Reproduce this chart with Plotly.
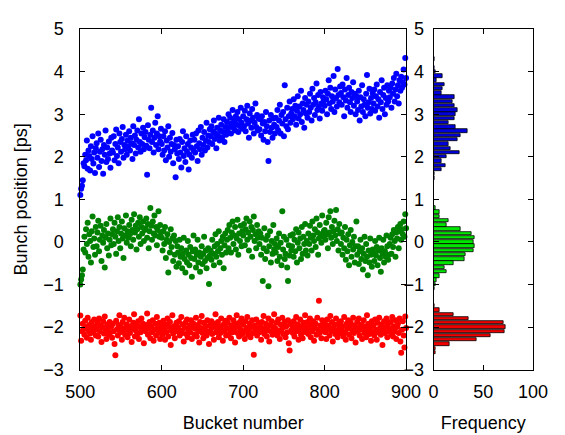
import plotly.graph_objects as go

# Bunch position per bucket for the three bunch trains [ps]
TRAIN_BLUE = [
    1.10, 1.25, 1.32, 1.45, 1.85, 1.78, 2.05, 1.92, 2.38, 1.72, 2.15, 2.02, 1.68, 2.25, 1.95, 2.48, 1.84, 2.10, 1.62, 2.20,
    2.32, 1.98, 2.55, 1.76, 2.12, 2.40, 1.90, 2.18, 1.60, 2.28, 2.05, 2.62, 1.88, 2.22, 1.95, 2.36, 2.08, 1.74, 2.45, 2.15,
    2.10, 2.48, 1.92, 2.30, 2.64, 2.02, 2.22, 1.85, 2.55, 2.35, 2.12, 2.42, 2.70, 1.98, 2.28, 2.18, 2.52, 2.05, 2.38, 2.25,
    2.60, 2.15, 2.45, 2.32, 1.95, 2.72, 2.28, 2.50, 2.08, 2.40, 2.62, 2.22, 2.88, 2.35, 2.12, 2.55, 2.30, 2.68, 2.18, 2.46,
    2.58, 2.26, 1.58, 2.74, 2.40, 2.20, 2.52, 3.15, 2.35, 2.62, 2.10, 2.45, 2.80, 2.28, 2.55, 2.95, 2.18, 2.48, 2.36, 2.66,
    2.30, 2.05, 2.48, 2.15, 2.60, 1.92, 2.38, 2.22, 2.72, 2.00, 2.45, 2.12, 2.30, 2.56, 1.85, 2.28, 2.18, 1.52, 2.40, 2.08,
    2.25, 1.95, 2.42, 2.10, 1.75, 2.35, 2.60, 2.02, 2.20, 1.88, 2.48, 2.12, 2.30, 1.70, 2.05, 2.38, 2.22, 1.98, 2.52, 2.15,
    2.40, 2.10, 2.55, 2.25, 1.90, 2.62, 2.32, 2.18, 2.70, 2.05, 2.45, 2.28, 2.58, 2.15, 2.38, 2.80, 2.22, 2.50, 2.35, 2.65,
    2.48, 2.72, 2.30, 2.60, 2.85, 2.42, 2.55, 2.20, 2.68, 2.50, 2.92, 2.38, 2.62, 2.75, 2.45, 2.58, 2.88, 2.35, 2.70, 2.52,
    2.82, 2.60, 3.00, 2.70, 2.92, 2.55, 2.78, 3.10, 2.68, 2.85, 2.62, 2.95, 2.75, 3.05, 2.58, 2.88, 2.72, 3.15, 2.80, 2.66,
    2.95, 2.72, 3.08, 2.60, 2.88, 3.20, 2.78, 2.45, 3.02, 2.85, 2.68, 3.12, 2.92, 2.55, 2.80, 3.25, 2.70, 2.98, 2.62, 2.90,
    2.65, 2.88, 2.50, 2.95, 2.78, 2.40, 2.82, 2.60, 3.05, 2.72, 2.35, 1.90, 2.85, 2.58, 2.98, 2.68, 2.45, 2.90, 2.75, 2.55,
    2.92, 2.70, 3.10, 2.62, 2.85, 3.22, 2.55, 2.98, 2.78, 3.05, 2.48, 3.68, 2.88, 2.72, 3.15, 2.65, 2.95, 3.30, 2.80, 3.02,
    3.12, 2.88, 3.35, 2.95, 3.20, 2.75, 3.08, 3.42, 2.90, 3.18, 3.00, 3.55, 2.82, 3.25, 3.10, 2.68, 3.38, 3.02, 3.22, 2.92,
    3.30, 3.05, 3.48, 3.15, 2.85, 3.60, 3.22, 3.38, 2.98, 3.28, 3.72, 3.10, 3.45, 3.18, 2.90, 3.52, 3.25, 3.08, 3.40, 3.32,
    3.20, 3.55, 3.35, 3.00, 3.48, 3.80, 3.25, 3.62, 3.12, 3.42, 3.30, 3.90, 3.05, 3.58, 3.38, 3.18, 4.06, 3.45, 3.28, 3.65,
    3.50, 3.22, 3.70, 3.40, 2.95, 3.58, 3.32, 3.85, 3.15, 3.45, 3.62, 3.28, 3.05, 3.52, 3.38, 3.75, 3.20, 3.48, 3.00, 3.42,
    3.30, 3.10, 3.55, 2.85, 3.40, 3.18, 3.68, 3.05, 3.35, 3.22, 2.95, 3.48, 3.92, 3.15, 3.28, 3.60, 3.02, 3.38, 3.12, 3.50,
    3.25, 3.58, 3.08, 3.42, 3.70, 3.18, 3.35, 2.92, 3.52, 3.28, 3.80, 3.12, 3.45, 3.62, 3.00, 3.38, 3.22, 3.68, 3.30, 3.55,
    3.40, 3.62, 3.15, 3.72, 3.48, 3.85, 3.30, 3.58, 3.95, 3.42, 3.68, 3.25, 3.80, 3.55, 3.88, 3.62, 3.75, 4.05, 3.70, 4.32,
    3.85,
]

TRAIN_GREEN = [
    -1.00, -0.88, -0.78, -0.65, -0.18, 0.12, -0.25, 0.30, -0.05, 0.45, -0.35, 0.18, 0.02, -0.48, 0.25, 0.60, -0.12, 0.08, -0.30, 0.35,
    -0.10, 0.22, 0.50, -0.22, 0.05, 0.38, -0.45, 0.15, -0.02, 0.28, -0.60, 0.10, 0.42, -0.15, 0.20, -0.32, 0.05, 0.55, -0.08, 0.18,
    0.30, -0.05, 0.45, 0.12, -0.28, 0.25, 0.58, 0.02, 0.35, -0.15, 0.20, 0.48, 0.08, -0.38, 0.32, 0.15, 0.62, -0.02, 0.25, 0.10,
    0.40, 0.18, -0.10, 0.52, 0.28, 0.05, 0.65, 0.22, 0.38, -0.18, 0.30, 0.45, 0.12, 0.58, -0.05, 0.35, 0.20, 0.48, 0.02, 0.28,
    0.32, 0.55, 0.10, 0.42, -0.15, 0.25, 0.80, 0.38, 0.05, 0.48, 0.20, 0.62, 0.15, 0.35, -0.08, 0.28, 0.72, 0.12, 0.40, 0.22,
    0.10, -0.20, 0.25, -0.05, 0.35, -0.38, 0.05, 0.18, -0.72, 0.00, -0.25, 0.30, -0.12, 0.08, -0.45, 0.15, -0.30, 0.02, -0.58, -0.10,
    -0.25, -0.50, 0.05, -0.35, -0.15, -0.62, -0.28, 0.10, -0.40, -0.72, -0.20, -0.48, 0.02, -0.30, -0.55, -0.12, -0.38, -0.82, -0.22, 0.15,
    -0.40, -0.18, -0.60, -0.30, 0.05, -0.48, -0.25, -0.70, -0.35, -0.10, -0.52, -0.28, 0.12, -0.45, -0.20, -0.62, -0.38, -0.15, -0.99, -0.32,
    -0.20, -0.42, 0.05, -0.28, -0.55, -0.10, 0.18, -0.35, -0.05, -0.22, 0.25, -0.48, -0.15, 0.02, -0.30, 0.12, -0.62, -0.08, 0.20, -0.25,
    0.05, 0.28, -0.15, 0.40, 0.10, -0.25, 0.22, 0.48, -0.05, 0.15, 0.35, -0.18, 0.08, 0.52, -0.30, 0.20, 0.02, 0.38, -0.10, 0.25,
    0.15, 0.42, -0.08, 0.30, 0.55, 0.05, 0.22, -0.20, 0.48, 0.12, 0.35, -0.35, 0.28, 0.60, 0.02, 0.18, -0.15, 0.40, 0.10, 0.25,
    -0.05, 0.20, -0.30, 0.10, -0.92, -0.15, 0.32, -0.40, 0.05, -0.22, 0.15, -1.04, -0.10, 0.25, -0.48, 0.02, -0.28, 0.40, -0.18, -0.05,
    -0.25, 0.08, -0.45, -0.12, 0.20, -0.35, -0.02, -0.55, 0.72, -0.18, 0.12, -0.40, -0.28, 0.05, -0.60, -0.92, -0.08, -0.32, 0.15, -0.20,
    -0.10, 0.18, -0.35, 0.05, -0.22, 0.30, -0.48, -0.02, 0.22, -0.15, 0.08, -0.40, 0.35, -0.28, 0.12, -0.05, 0.42, -0.20, 0.02, -0.32,
    0.20, -0.05, 0.38, 0.10, -0.20, 0.48, 0.15, 0.02, 0.30, -0.12, 0.55, 0.22, -0.30, 0.08, 0.40, 0.18, -0.02, 0.62, 0.12, 0.25,
    0.28, 0.05, 0.45, 0.18, -0.15, 0.58, 0.22, 0.72, 0.10, 0.35, -0.05, 0.25, 0.50, 0.15, 0.75, 0.02, 0.30, -0.20, 0.42, 0.20,
    -0.05, 0.22, -0.30, 0.10, -0.15, 0.35, -0.42, 0.05, -0.22, 0.18, -0.55, -0.08, 0.28, -0.35, 0.00, -0.18, 0.12, -0.48, -0.10, 0.48,
    -0.30, -0.10, -0.52, -0.22, 0.05, -0.40, -0.15, -0.65, -0.28, 0.12, -0.45, -0.05, -0.35, -0.78, -0.20, -0.48, 0.08, -0.30, -0.58, -0.18,
    -0.25, -0.45, 0.02, -0.32, -0.12, -0.55, -0.20, 0.10, -0.38, -0.70, -0.15, -0.28, 0.05, -0.48, -0.22, -0.35, 0.15, -0.10, -0.42, -0.30,
    -0.05, 0.10, -0.28, 0.18, -0.12, 0.28, 0.02, -0.35, 0.22, 0.08, 0.35, -0.15, 0.25, 0.42, 0.05, 0.30, 0.18, 0.48, 0.12, 0.65,
    0.32,
]

TRAIN_RED = [
    -1.73, -2.32, -2.10, -1.92, -2.05, -2.18, -1.85, -2.00, -2.25, -1.78, -2.08, -1.95, -2.15, -2.30, -1.88, -2.02, -2.12, -1.82, -1.98, -2.20,
    -2.05, -1.90, -2.22, -1.80, -2.10, -1.96, -2.35, -2.00, -1.86, -2.15, -1.75, -2.08, -2.28, -1.94, -2.02, -2.18, -1.88, -2.12, -1.98, -2.25,
    -1.92, -2.10, -2.40, -2.66, -1.85, -2.05, -2.20, -1.95, -1.72, -2.12, -2.00, -2.30, -1.88, -2.08, -1.78, -2.18, -2.02, -1.94, -2.24, -2.06,
    -1.82, -2.14, -1.98, -2.35, -2.04, -1.90, -1.70, -2.22, -2.08, -1.96, -2.16, -1.86, -2.28, -2.00, -2.12, -1.80, -2.06, -1.92, -2.38, -2.02,
    -2.10, -1.95, -1.68, -2.18, -2.04, -1.88, -2.26, -1.98, -2.12, -1.84, -2.32, -2.06, -1.92, -2.20, -1.76, -2.02, -2.14, -1.90, -2.28, -2.08,
    -1.96, -2.18, -1.85, -2.05, -2.30, -1.94, -2.12, -1.80, -2.22, -2.00, -1.88, -2.42, -2.08, -1.72, -2.15, -1.98, -2.26, -2.04, -1.90, -2.10,
    -2.00, -1.86, -2.20, -2.08, -1.76, -2.14, -1.94, -2.34, -2.02, -1.90, -2.16, -1.82, -2.24, -2.06, -1.96, -2.12, -1.84, -2.28, -2.00, -1.92,
    -2.18, -2.04, -1.78, -2.22, -1.95, -2.10, -2.36, -1.88, -2.02, -1.74, -2.14, -2.26, -1.90, -2.06, -1.98, -2.20, -1.84, -2.12, -2.40, -1.96,
    -2.08, -1.86, -2.16, -2.00, -2.30, -1.92, -1.70, -2.12, -2.04, -1.88, -2.24, -1.98, -2.14, -1.80, -2.06, -2.32, -1.94, -2.10, -1.85, -2.20,
    -2.02, -1.90, -2.18, -1.78, -2.08, -2.26, -1.96, -2.12, -1.84, -2.04, -2.36, -1.92, -1.72, -2.14, -2.00, -2.22, -1.88, -2.06, -1.80, -2.16,
    -1.94, -2.10, -2.28, -1.86, -2.02, -1.76, -2.18, -2.06, -1.92, -2.24, -2.00, -1.84, -2.14, -2.65, -1.96, -2.08, -1.82, -2.20, -2.04, -1.90,
    -2.12, -1.98, -2.30, -1.88, -2.06, -1.74, -2.16, -2.02, -1.92, -2.22, -2.08, -1.80, -2.34, -1.96, -2.10, -1.86, -2.18, -2.00, -1.70, -2.14,
    -2.04, -1.90, -2.20, -1.82, -2.10, -2.28, -1.94, -2.06, -1.78, -2.16, -2.00, -1.88, -2.24, -1.98, -2.12, -1.84, -2.38, -2.55, -1.92, -2.08,
    -1.96, -2.14, -1.86, -2.22, -2.02, -1.76, -2.10, -1.94, -2.30, -2.06, -1.82, -2.18, -1.98, -2.26, -1.90, -2.08, -1.72, -2.12, -2.00, -1.88,
    -2.16, -2.04, -1.80, -2.24, -1.94, -2.10, -1.86, -2.32, -2.02, -1.92, -2.18, -1.78, -2.06, -1.38, -2.14, -1.96, -2.26, -1.84, -2.08, -2.00,
    -1.90, -2.12, -2.28, -1.82, -2.04, -1.96, -2.20, -1.74, -2.10, -1.88, -2.34, -2.02, -1.94, -2.16, -1.80, -2.08, -2.24, -1.92, -2.00, -2.14,
    -1.86, -2.06, -1.98, -2.22, -1.76, -2.12, -2.30, -1.92, -2.04, -1.84, -2.18, -2.00, -1.90, -2.26, -2.08, -1.78, -2.14, -1.96, -2.36, -2.02,
    -1.88, -2.10, -1.80, -2.20, -2.00, -1.94, -2.28, -2.06, -1.84, -2.14, -1.98, -2.24, -1.72, -2.08, -1.92, -2.16, -2.02, -2.32, -1.86, -2.12,
    -1.96, -2.20, -1.82, -2.06, -2.30, -1.90, -2.12, -1.78, -2.02, -2.18, -1.94, -2.42, -2.08, -1.86, -2.14, -2.00, -1.80, -2.24, -1.92, -2.10,
    -2.04, -1.88, -2.16, -1.76, -2.22, -1.98, -2.10, -1.84, -2.28, -2.00, -1.92, -2.14, -1.80, -2.34, -2.60, -2.06, -1.86, -2.20, -2.48, -1.75,
    -2.02,
]

FIRST_BUCKET = 500

# Histogram of bunch positions (0.1 ps bins): bin centres and counts
BLUE_BINS = [1.5, 1.6, 1.7, 1.8, 1.9, 2.0, 2.1, 2.2, 2.3, 2.4, 2.5, 2.6, 2.7, 2.8, 2.9,
             3.0, 3.1, 3.2, 3.3, 3.4, 3.5, 3.6, 3.7, 3.8, 3.9, 4.0, 4.1, 4.3]
BLUE_COUNTS = [1, 1, 8, 12, 8, 13, 26, 17, 15, 24, 27, 34, 22, 15, 21,
               22, 24, 21, 19, 21, 8, 9, 11, 3, 9, 2, 1, 1]

GREEN_BINS = [0.8, 0.7, 0.6, 0.5, 0.4, 0.3, 0.2, 0.1, 0.0, -0.1, -0.2, -0.3, -0.4,
              -0.5, -0.6, -0.7, -0.8, -0.9, -1.0, -1.1]
GREEN_COUNTS = [2, 6, 6, 15, 13, 27, 38, 41, 40, 41, 40, 32, 31,
                20, 11, 13, 6, 3, 2, 1]

RED_BINS = [-1.5, -1.6, -1.7, -1.8, -1.9, -2.0, -2.1, -2.2, -2.3, -2.4, -2.5, -2.6]
RED_COUNTS = [1, 6, 20, 35, 70, 72, 71, 57, 43, 16, 2, 2]

FONT = "Liberation Sans, Arial, sans-serif"

fig = go.Figure()

for vals, col in [(TRAIN_BLUE, "#0000ff"), (TRAIN_GREEN, "#008000"), (TRAIN_RED, "#ff0000")]:
    fig.add_trace(go.Scatter(
        x=list(range(FIRST_BUCKET, FIRST_BUCKET + len(vals))), y=vals,
        mode="markers", marker=dict(color=col, size=6, line=dict(width=0)),
        xaxis="x", yaxis="y", showlegend=False, cliponaxis=False,
    ))

for bins, counts, col in [(BLUE_BINS, BLUE_COUNTS, "#0000dd"),
                          (GREEN_BINS, GREEN_COUNTS, "#00e600"),
                          (RED_BINS, RED_COUNTS, "#ee0000")]:
    fig.add_trace(go.Bar(
        x=counts, y=bins, orientation="h", width=0.08,
        marker=dict(color=col, line=dict(color="black", width=0.8)),
        xaxis="x2", yaxis="y2", showlegend=False,
    ))

axis_common = dict(
    showline=True, linecolor="black", linewidth=1, mirror="ticks",
    ticks="inside", ticklen=5, tickcolor="black", tickwidth=1,
    showgrid=False, zeroline=False,
    tickfont=dict(family=FONT, size=18, color="black"),
)

fig.update_layout(
    width=565, height=435,
    margin=dict(l=0, r=0, t=0, b=0),
    paper_bgcolor="white", plot_bgcolor="white",
    font=dict(family=FONT, size=18, color="black"),
    bargap=0,
    xaxis=dict(domain=[69 / 565, 413 / 565], range=[500, 900], tickvals=[500, 600, 700, 800, 900],
               anchor="y", ticklabelstandoff=6,
               title=dict(text="Bucket number", font=dict(family=FONT, size=18), standoff=15),
               **axis_common),
    yaxis=dict(domain=[1 - 377 / 435, 1 - 20 / 435], range=[-3, 5], dtick=1,
               anchor="x", ticklabelstandoff=12,
               title=dict(text="Bunch position [ps]", font=dict(family=FONT, size=18), standoff=10),
               **axis_common),
    xaxis2=dict(domain=[442 / 565, 547 / 565], range=[0, 100], tickvals=[0, 50, 100],
                anchor="y2", ticklabelstandoff=6,
                title=dict(text="Frequency", font=dict(family=FONT, size=18), standoff=15),
                **axis_common),
    yaxis2=dict(domain=[1 - 377 / 435, 1 - 20 / 435], range=[-3, 5], dtick=1,
                anchor="x2", ticklabelstandoff=5,
                **axis_common),
)

fig.write_html("out.html")
